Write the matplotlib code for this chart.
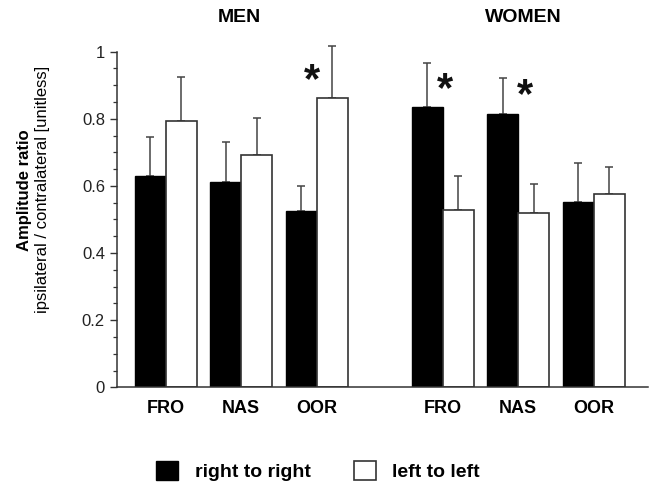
import matplotlib
matplotlib.use("Agg")
import matplotlib.pyplot as plt
from matplotlib.patches import Patch
from matplotlib.ticker import MultipleLocator
from matplotlib.transforms import blended_transform_factory
import numpy as np

plt.rcParams['font.family'] = ['Liberation Sans', 'DejaVu Sans']

muscles = ["FRO", "NAS", "OOR"]
groups = ["MEN", "WOMEN"]
series_names = ["right to right", "left to left"]

# means (men FRO, NAS, OOR, women FRO, NAS, OOR)
right_mean = [0.630, 0.612, 0.526, 0.834, 0.813, 0.552]
left_mean = [0.794, 0.691, 0.861, 0.527, 0.519, 0.577]
# top of error bar (mean + SD)
right_top = [0.747, 0.730, 0.600, 0.965, 0.923, 0.667]
left_top = [0.924, 0.801, 1.018, 0.630, 0.605, 0.657]

# significance markers: (bar index, x offset from group centre, y)
stars = [(2, -0.06, 0.934), (3, 0.03, 0.908), (4, 0.09, 0.889)]

W, H = 650, 486
fig = plt.figure(figsize=(W / 100, H / 100), dpi=100)
ax = fig.add_axes([116.7 / W, 1 - 387.3 / H, (648 - 116.7) / W, (387.3 - 51.7) / H])

centers = np.array([0, 1, 2, 3.67, 4.67, 5.67])
bw = 0.41
edge = '#333333'

rm = np.array(right_mean); lm = np.array(left_mean)
rt = np.array(right_top); lt = np.array(left_top)

ax.bar(centers - bw / 2, rm, bw, color='black', edgecolor='black', linewidth=1.0, zorder=2)
ax.bar(centers + bw / 2, lm, bw, color='white', edgecolor=edge, linewidth=1.2, zorder=2)

for x, m, t in [(centers - bw / 2, rm, rt), (centers + bw / 2, lm, lt)]:
    ax.errorbar(x, m, yerr=[np.zeros_like(m), t - m], fmt='none', ecolor='#444444',
                elinewidth=1.1, capsize=2.6, capthick=1.1, zorder=1, clip_on=False)

for i, dx, y in stars:
    ax.text(centers[i] + dx, y - 0.022, "*", ha='center', va='center', fontsize=30,
            fontweight='bold', color='#111111')

ax.set_xlim(-0.649, 6.39)
ax.set_ylim(0, 1)
ax.spines['top'].set_visible(False)
ax.spines['right'].set_visible(False)
for s in ['left', 'bottom']:
    ax.spines[s].set_color(edge)
    ax.spines[s].set_linewidth(1.1)

ax.yaxis.set_minor_locator(MultipleLocator(0.05))
ax.set_yticks([0, 0.2, 0.4, 0.6, 0.8, 1.0])
ax.set_yticklabels(["0", "0.2", "0.4", "0.6", "0.8", "1"])
ax.tick_params(axis='y', which='major', length=5, width=1, color=edge, pad=3.5,
               labelsize=12, labelcolor='#222222')
ax.tick_params(axis='y', which='minor', length=3, width=0.9, color=edge)

ax.set_xticks(centers)
ax.set_xticklabels(muscles * 2, fontweight='bold', fontsize=13)
ax.tick_params(axis='x', length=0, pad=9)

# group titles
tr = blended_transform_factory(ax.transData, fig.transFigure)
title_x = [centers[1] - 0.02, centers[4] + 0.07]
for g, cx in zip(groups, title_x):
    ax.text(cx, 1 - 18 / H, g, transform=tr, ha='center', va='center',
            fontsize=14, fontweight='bold')

# y-axis label (two lines)
fig.text(25 / W, 1 - 190 / H, "Amplitude ratio", rotation=90, ha='center', va='center',
         fontsize=12, fontweight='bold')
fig.text(43 / W, 1 - 189 / H, "ipsilateral / contralateral [unitless]", rotation=90,
         ha='center', va='center', fontsize=12)

handles = [Patch(facecolor='black', edgecolor='black'),
           Patch(facecolor='white', edgecolor=edge, linewidth=1.2)]
fig.legend(handles, series_names, loc='center', bbox_to_anchor=(318 / W, 1 - 471 / H),
           ncol=2, frameon=False, prop={'weight': 'bold', 'size': 14},
           handlelength=1.15, handleheight=1.15, handletextpad=0.85, columnspacing=2.2)

fig.savefig("out.png", dpi=100)
